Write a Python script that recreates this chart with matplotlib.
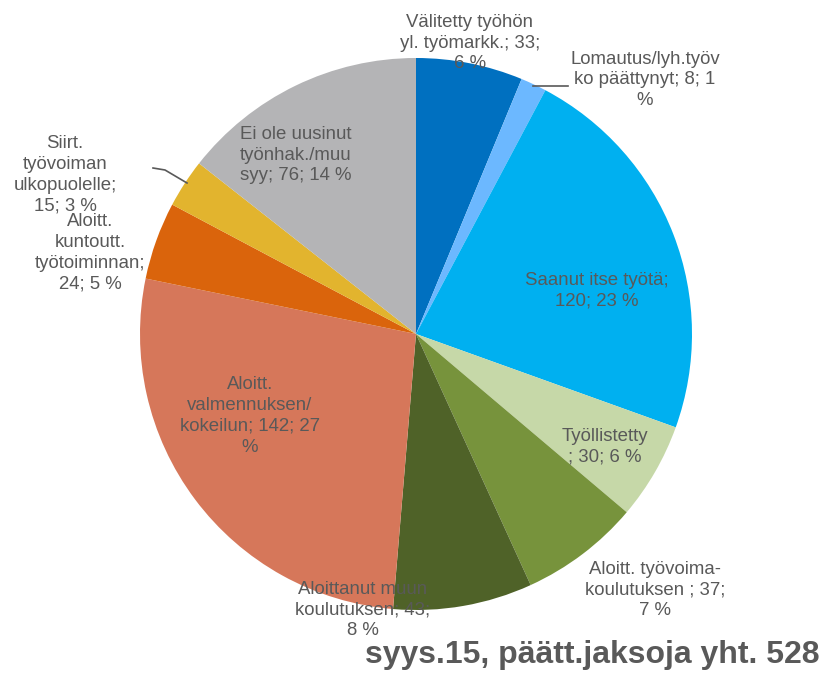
import matplotlib
matplotlib.use("Agg")
import matplotlib.pyplot as plt

# data
labels = [
    "Välitetty työhön\nyl. työmarkk.; 33;\n6 %",
    "Lomautus/lyh.työv\nko päättynyt; 8; 1\n%",
    "Saanut itse työtä;\n120; 23 %",
    "Työllistetty\n; 30; 6 %",
    "Aloitt. työvoima-\nkoulutuksen ; 37;\n7 %",
    "Aloittanut muun\nkoulutuksen; 43;\n8 %",
    "Aloitt.\nvalmennuksen/\nkokeilun; 142; 27\n%",
    "Aloitt.\nkuntoutt.\ntyötoiminnan;\n24; 5 %",
    "Siirt.\ntyövoiman\nulkopuolelle;\n15; 3 %",
    "Ei ole uusinut\ntyönhak./muu\nsyy; 76; 14 %",
]
values = [33, 8, 120, 30, 37, 43, 142, 24, 15, 76]
colors = ["#0070C0", "#6CB8FF", "#00B0F0", "#C6D8A8", "#77933C",
          "#4F6228", "#D6775A", "#DA640C", "#E2B42E", "#B4B4B6"]
title = "syys.15, päätt.jaksoja yht. 528"

# label positions in pixels (x, y from top)
label_pos = [(470, 43), (645, 80), (597, 291), (605, 447), (655, 590),
             (363, 610), (250, 416), (90, 253), (65, 175), (296, 155)]

W, H = 825, 673
cx, cy, R = 416, 334, 276

fig = plt.figure(figsize=(W / 100, H / 100), dpi=100)
ax = fig.add_axes([0, 0, 1, 1])
ax.pie(values, colors=colors, startangle=90, counterclock=False,
       radius=R, center=(cx, H - cy), wedgeprops=dict(linewidth=0))
ax.set_xlim(0, W)
ax.set_ylim(0, H)
ax.set_aspect("equal")
ax.axis("off")

for txt, (x, y) in zip(labels, label_pos):
    ax.text(x, H - y, txt, ha="center", va="center", fontsize=13.4,
            color="#595959", family="Liberation Sans", linespacing=1.3)

# leader lines
ax.plot([533, 568], [H - 86, H - 86], color="#595959", lw=1.2)
ax.plot([153, 165, 187], [H - 168, H - 170, H - 183], color="#595959", lw=1.2)

ax.text(820, H - 655, title, ha="right", va="center", fontsize=23,
        fontweight="bold", color="#595959", family="Liberation Sans")

fig.savefig("out.png", dpi=100)
